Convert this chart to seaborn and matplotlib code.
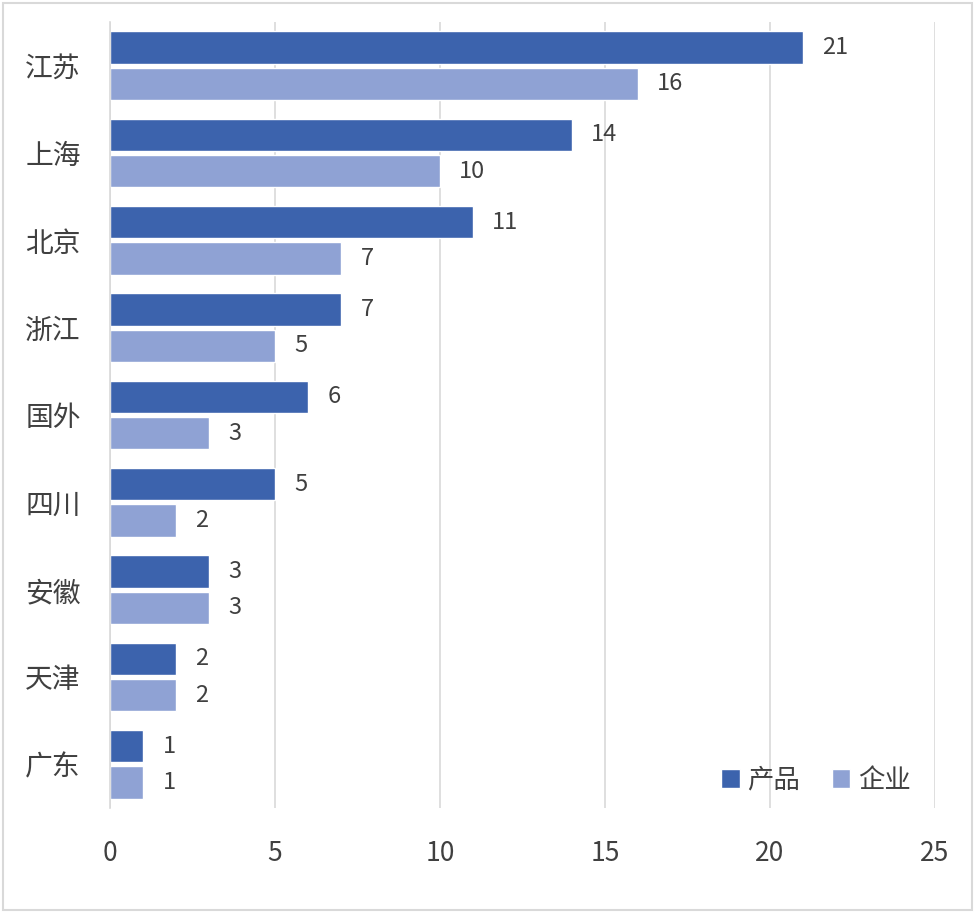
import pandas as pd
import matplotlib.pyplot as plt
import seaborn as sns
from matplotlib.patches import Rectangle

# dados
regioes = ["江苏", "上海", "北京", "浙江", "国外", "四川", "安徽", "天津", "广东"]
produtos = [21, 14, 11, 7, 6, 5, 3, 2, 1]
empresas = [16, 10, 7, 5, 3, 2, 3, 2, 1]
series = ["产品", "企业"]
cores = ["#3C63AD", "#8FA2D4"]

df = pd.DataFrame({
    "regiao": regioes * 2,
    "valor": produtos + empresas,
    "serie": [series[0]] * len(regioes) + [series[1]] * len(regioes),
})

sns.set_style("white")
plt.rcParams["font.family"] = ["Noto Sans CJK SC", "DejaVu Sans"]

fig = plt.figure(figsize=(9.75, 9.13), dpi=100)
ax = fig.add_axes([0.1128, 0.115, 0.846, 0.861])

sns.barplot(data=df, y="regiao", x="valor", hue="serie", order=regioes,
            hue_order=series, palette=cores, orient="y", width=0.83, gap=0.11,
            saturation=1, ax=ax)

for c in ax.containers:
    ax.bar_label(c, padding=14, fontsize=17, color="#404040")

ax.set_xlim(0, 25)
ax.set_xticks([0, 5, 10, 15, 20, 25])
ax.set_ylim(len(regioes) - 0.5, -0.5)
ax.xaxis.grid(True, color="#D9D9D9", linewidth=1.2)
ax.set_axisbelow(True)
ax.set_xlabel("")
ax.set_ylabel("")
ax.tick_params(axis="x", labelsize=19, labelcolor="#404040", length=0, pad=23)
ax.tick_params(axis="y", labelsize=20, labelcolor="#404040", length=0, pad=21)

for s in ["top", "right", "bottom"]:
    ax.spines[s].set_visible(False)
ax.spines["left"].set_color("#D9D9D9")
ax.spines["left"].set_linewidth(1.2)

ax.legend(loc="lower right", bbox_to_anchor=(1.0, -0.012), ncol=2, frameon=False,
          fontsize=19, handlelength=0.7, handleheight=0.7, handletextpad=0.3,
          columnspacing=1.2, labelcolor="#404040")

# moldura externa
fig.patches.append(Rectangle((0.003, 0.003), 0.994, 0.994, transform=fig.transFigure,
                             fill=False, edgecolor="#D9D9D9", linewidth=1.5))

fig.savefig("out.png", dpi=100)
